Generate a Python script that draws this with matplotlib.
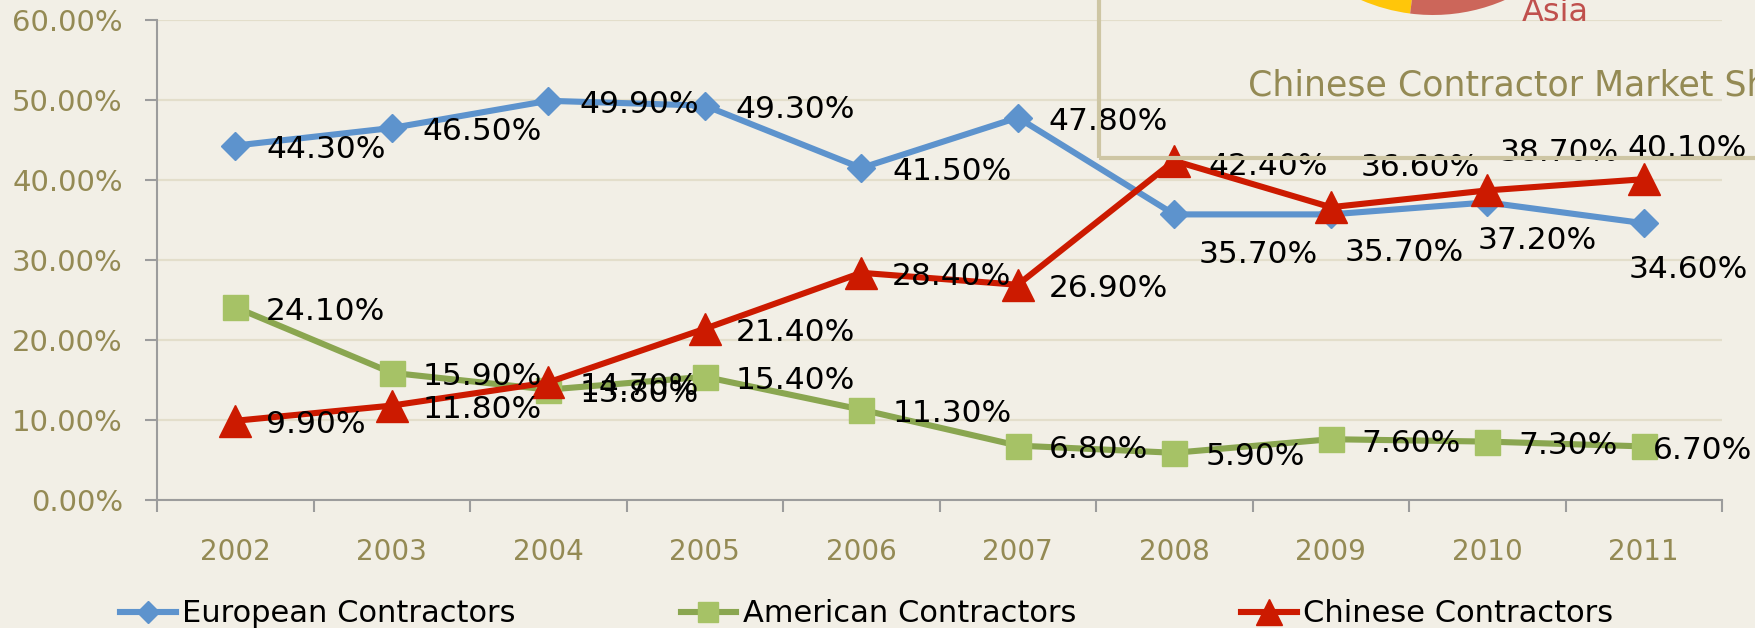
import matplotlib
matplotlib.use("Agg")
import matplotlib.pyplot as plt
from matplotlib.ticker import FuncFormatter, FixedLocator
from matplotlib.patches import Rectangle

# ---- data ----
years = ["2002", "2003", "2004", "2005", "2006", "2007", "2008", "2009", "2010", "2011"]
european = [44.3, 46.5, 49.9, 49.3, 41.5, 47.8, 35.7, 35.7, 37.2, 34.6]
american = [24.1, 15.9, 13.8, 15.4, 11.3, 6.8, 5.9, 7.6, 7.3, 6.7]
chinese = [9.9, 11.8, 14.7, 21.4, 28.4, 26.9, 42.4, 36.6, 38.7, 40.1]
series_names = ["European Contractors", "American Contractors", "Chinese Contractors"]
y_ticks = [0, 10, 20, 30, 40, 50, 60]
# visible part of the cropped inset pie (other / Asia)
pie_shares = [0.09, 0.25]
inset_title = "Chinese Contractor Market Share"
pie_label = "Asia"

# ---- style ----
BG = "#F2EFE6"
GRID = "#E3DECB"
AXIS = "#9C9C9C"
OLIVE = "#948A54"
BLUE = "#5D93CD"
GREEN_LINE = "#8AA650"
GREEN_MK = "#A6C266"
RED = "#CC1A00"
BOX = "#CEC6A4"
PIE_Y = "#FFC60A"
PIE_R = "#CC665A"
ASIA = "#C0504D"

# label offsets in pixels (dx, dy); default right of the point, slightly lower
DEFAULT_OFF = (31, -4)
label_offsets = {
    (0, 6): (24, -40), (0, 7): (14, -38), (0, 8): (-10, -38), (0, 9): (-15, -46),
    (1, 9): (9, -4),
    (2, 6): (34, -6), (2, 7): (30, 40), (2, 8): (12, 38), (2, 9): (-16, 31),
}

W, H = 1756, 628
fig = plt.figure(figsize=(W / 100, H / 100), dpi=100, facecolor=BG)
ax = fig.add_axes([157 / W, 128 / H, (1722 - 157) / W, 480 / H])
ax.set_facecolor(BG)

x = list(range(len(years)))
styles = [
    (european, BLUE, BLUE, "D", 14),
    (american, GREEN_LINE, GREEN_MK, "s", 18),
    (chinese, RED, RED, "^", 23),
]
for si, ((vals, lc, mc, mk, ms), name) in enumerate(zip(styles, series_names)):
    ax.plot(x, vals, color=lc, lw=4.4, marker=mk, ms=ms, mfc=mc, mec=mc,
            label=name, zorder=3, solid_joinstyle="round")
    for xi, v in zip(x, vals):
        off = label_offsets.get((si, xi), DEFAULT_OFF)
        ax.annotate(f"{v:.2f}%", (xi, v), xytext=off, textcoords="offset pixels",
                    ha="left", va="center", fontsize=22.5, color="black", zorder=4)

ax.set_xlim(-0.5, len(years) - 0.5)
ax.set_ylim(0, 60)
ax.yaxis.set_major_locator(FixedLocator(y_ticks))
ax.yaxis.set_major_formatter(FuncFormatter(lambda v, p: f"{v:.2f}%"))
ax.tick_params(axis="y", colors=AXIS, labelcolor=OLIVE, labelsize=21,
               length=8.6, width=1.5, pad=16)
ax.xaxis.set_major_locator(FixedLocator([i - 0.5 for i in range(len(years) + 1)]))
ax.xaxis.set_major_formatter(FuncFormatter(lambda v, p: ""))
ax.xaxis.set_minor_locator(FixedLocator(x))
ax.set_xticks(x, years, minor=True)
ax.tick_params(axis="x", which="major", colors=AXIS, length=8.6, width=1.5)
ax.tick_params(axis="x", which="minor", length=0, labelcolor=OLIVE, labelsize=20, pad=27.5)

ax.yaxis.grid(True, color=GRID, lw=1.6)
ax.set_axisbelow(True)
for s in ["top", "right"]:
    ax.spines[s].set_visible(False)
for s in ["left", "bottom"]:
    ax.spines[s].set_color(AXIS)
    ax.spines[s].set_linewidth(1.5)

fig.legend(loc="center left", bbox_to_anchor=(120 / W, (H - 614) / H), ncol=3,
           frameon=False, fontsize=22, handlelength=1.83, handletextpad=0.2,
           columnspacing=5.4, borderpad=0, borderaxespad=0, markerscale=0.8)

# ---- cropped inset (pie chart box) ----
pax = fig.add_axes([1253 / W, (H - 15) / H, 360 / W, 360 / H])
pax.pie(pie_shares, colors=[PIE_Y, PIE_R], startangle=-129.7, normalize=False,
        radius=1, wedgeprops=dict(linewidth=0))
pax.set_xlim(-1, 1)
pax.set_ylim(-1, 1)
pax.set_aspect("auto")
pax.axis("off")

fig.add_artist(Rectangle((1099 / W, (H - 158) / H), 0.6, 0.6, transform=fig.transFigure,
                         fill=False, edgecolor=BOX, lw=3, zorder=5))
fig.text(1248 / W, (H - 95) / H, inset_title, fontsize=25, color=OLIVE,
         ha="left", va="baseline")
fig.text(1522 / W, (H - 21) / H, pie_label, fontsize=23, color=ASIA,
         ha="left", va="baseline")

fig.savefig("out.png", dpi=100, facecolor=BG)
